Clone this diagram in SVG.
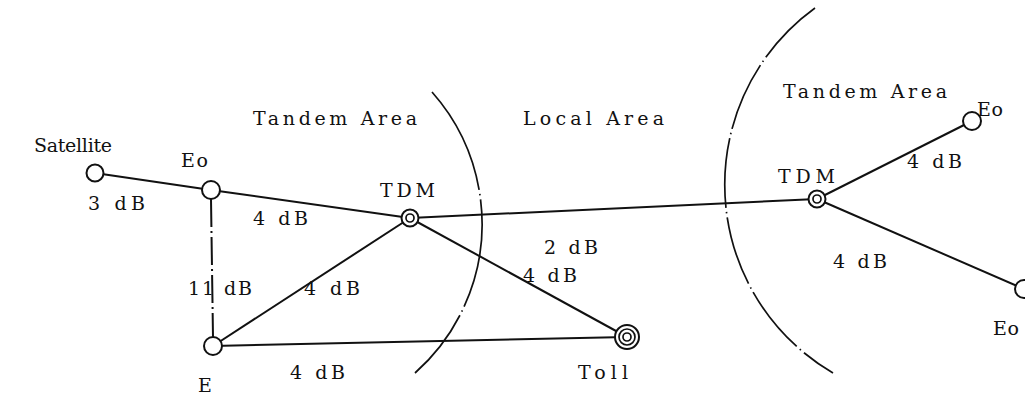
<svg xmlns="http://www.w3.org/2000/svg" width="1025" height="395" viewBox="0 0 1025 395">
<style>
text{font-family:"DejaVu Serif","Liberation Serif",serif;font-size:19px;fill:#111}
.ln{stroke:#111;stroke-width:2;fill:none}
.dd{stroke:#111;stroke-width:2;fill:none;stroke-dasharray:28 4 2 4}
.arcL{stroke:#111;stroke-width:1.7;fill:none;stroke-dasharray:110 4 1.5 4}
.arcR{stroke:#111;stroke-width:1.7;fill:none;stroke-dasharray:70 4 1.5 4}
.n{stroke:#111;stroke-width:2;fill:#fff}
.ni{stroke:#111;stroke-width:1.7;fill:none}
</style>
<rect width="1025" height="395" fill="#fff"/>
<g id="boundaries">
<path class="arcL" d="M432,92 A199,199 0 0 1 415,373"/>
<path class="arcR" d="M815,8 A218,218 0 0 0 833,373"/>
</g>
<g id="area-labels">
<text x="253" y="125" textLength="164" lengthAdjust="spacing">Tandem Area</text>
<text x="523" y="125" textLength="141" lengthAdjust="spacing">Local Area</text>
<text x="783" y="98" textLength="164" lengthAdjust="spacing">Tandem Area</text>
</g>
<g id="connectors">
<line class="ln" x1="95" y1="173" x2="211" y2="190"/>
<line class="ln" x1="211" y1="190" x2="410" y2="218"/>
<line class="dd" x1="211" y1="199" x2="213" y2="337"/>
<line class="ln" x1="213" y1="346" x2="410" y2="218"/>
<line class="ln" x1="410" y1="218" x2="627" y2="337"/>
<line class="ln" x1="213" y1="346" x2="627" y2="337"/>
<line class="ln" x1="410" y1="218" x2="817" y2="199"/>
<line class="ln" x1="817" y1="199" x2="972" y2="121"/>
<line class="ln" x1="817" y1="199" x2="1024" y2="289"/>
<text x="88" y="210" textLength="57" lengthAdjust="spacing">3 dB</text>
<text x="253" y="225" textLength="55" lengthAdjust="spacing">4 dB</text>
<text x="188" y="295" textLength="64" lengthAdjust="spacing">11 dB</text>
<text x="304" y="295" textLength="56" lengthAdjust="spacing">4 dB</text>
<text x="544" y="254" textLength="54" lengthAdjust="spacing">2 dB</text>
<text x="523" y="282" textLength="54" lengthAdjust="spacing">4 dB</text>
<text x="290" y="379" textLength="55" lengthAdjust="spacing">4 dB</text>
<text x="907" y="168" textLength="55" lengthAdjust="spacing">4 dB</text>
<text x="833" y="268" textLength="54" lengthAdjust="spacing">4 dB</text>
</g>
<g id="satellite">
<circle class="n" cx="95" cy="173" r="8.5"/>
<text x="34" y="152" textLength="78" lengthAdjust="spacing">Satellite</text>
</g>
<g id="eo-left">
<circle class="n" cx="211" cy="190" r="9"/>
<text x="181" y="167" textLength="27" lengthAdjust="spacing">Eo</text>
</g>
<g id="e">
<circle class="n" cx="213" cy="346" r="9"/>
<text x="198" y="392">E</text>
</g>
<g id="tdm-left">
<circle class="n" cx="410" cy="218" r="8.5"/>
<circle class="ni" cx="410" cy="218" r="4"/>
<text x="380" y="197" textLength="55" lengthAdjust="spacing">TDM</text>
</g>
<g id="toll">
<circle class="n" cx="627" cy="337" r="12"/>
<circle class="ni" cx="627" cy="337" r="8"/>
<circle class="ni" cx="627" cy="337" r="4"/>
<text x="578" y="379" textLength="50" lengthAdjust="spacing">Toll</text>
</g>
<g id="tdm-right">
<circle class="n" cx="817" cy="199" r="8.5"/>
<circle class="ni" cx="817" cy="199" r="4"/>
<text x="778" y="183" textLength="57" lengthAdjust="spacing">TDM</text>
</g>
<g id="eo-upper-right">
<circle class="n" cx="972" cy="121" r="9"/>
<text x="977" y="116" textLength="26" lengthAdjust="spacing">Eo</text>
</g>
<g id="eo-lower-right">
<circle class="n" cx="1024" cy="289" r="9"/>
<text x="993" y="335" textLength="26" lengthAdjust="spacing">Eo</text>
</g>
</svg>
